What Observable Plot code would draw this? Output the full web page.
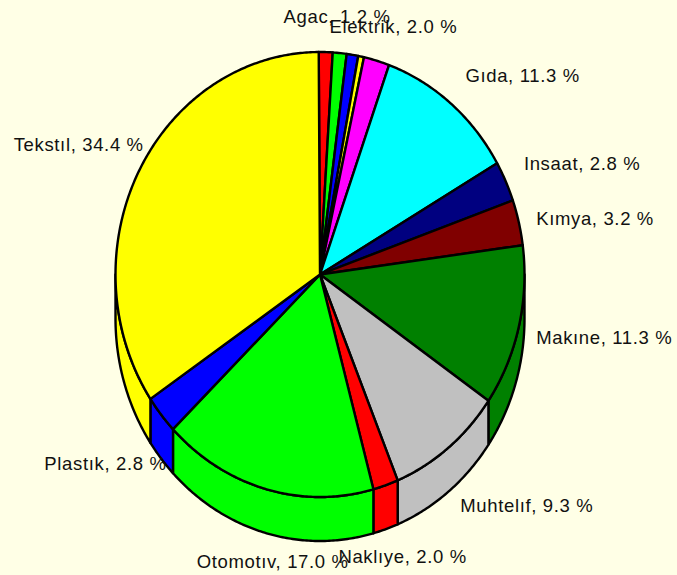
<!DOCTYPE html>
<html>
<head>
<meta charset="utf-8">
<script src="https://cdn.jsdelivr.net/npm/d3@7"></script>
<script src="https://cdn.jsdelivr.net/npm/@observablehq/plot@0.6"></script>
<style>
html,body{margin:0;padding:0;background:#FFFFE6;overflow:hidden}
svg{display:block}
</style>
</head>
<body>
<div id="chart"></div>
<script>
const names = ["Agac", null, null, null, "Elektrik", "Gıda", "Insaat", "Kımya", "Makıne", "Muhtelıf", "Naklıye", "Otomotıv", "Plastık", "Tekstıl"];
const shares = [1.2, 1.2, 1.0, 0.5, 2.0, 11.3, 2.8, 3.2, 11.3, 9.3, 2.0, 17.0, 2.8, 34.4];
const colors = ["#FF0000", "#00FF00", "#0000FF", "#FFFF00", "#FF00FF", "#00FFFF", "#000080", "#800000", "#008000", "#C0C0C0", "#FF0000", "#00FF00", "#0000FF", "#FFFF00"];
// Label anchor points (left edge, vertical middle), in pie-radius units
const labelX = [-0.178, null, null, null, 0.046, 0.711, 0.997, 1.057, 1.057, 0.686, 0.09, -0.603, -1.348, -1.498];
const labelY = [1.155, null, null, null, 1.11, 0.891, 0.498, 0.247, -0.287, -1.042, -1.272, -1.294, -0.852, 0.58];
// The reference's 3-D view bends the angles slightly: cumulative share -> drawn share
const viewFrom = [0, 3.9, 5.9, 17.2, 20, 23.2, 34.5, 43.8, 100];
const viewTo = [-0.1, 3.45, 5.48, 16.67, 19.6, 22.9, 34.6, 43.8, 99.9];

const W = 677, H = 575;
const cx = 319.5, cy = 274, rx = 204.5, ry = 222.5;
const depth = 44 / ry;
const tau = 2 * Math.PI;
const view = d3.scaleLinear(viewFrom, viewTo);

const rows = [], walls = [];
let cum = 0;
shares.forEach((v, i) => {
  const a0 = view(cum) / 100 * tau;
  cum += v;
  const a1 = view(cum) / 100 * tau;
  const arc = (from, to, dy = 0) => {
    const n = Math.max(2, Math.ceil(Math.abs(to - from) / 0.01));
    return d3.range(n + 1).map(k => {
      const a = from + (to - from) * k / n;
      return {x: Math.sin(a), y: Math.cos(a) - dy};
    });
  };
  const face = [{x: 0, y: 0}, ...arc(a0, a1), {x: 0, y: 0}];
  face.forEach(p => rows.push({...p, id: i, color: colors[i]}));
  const w0 = Math.max(a0, tau / 4), w1 = Math.min(a1, 3 * tau / 4);
  if (w1 > w0) {
    const wall = [...arc(w0, w1), ...arc(w1, w0, depth)];
    wall.push(wall[0]);
    wall.forEach(p => walls.push({...p, id: i, color: colors[i]}));
  }
});

const labels = names.map((n, i) => n && ({
  x: labelX[i], y: labelY[i], text: `${n}, ${shares[i].toFixed(1)} %`
})).filter(Boolean);

const plot = Plot.plot({
  width: W, height: H,
  margin: 0,
  style: {background: "#FFFFE6", overflow: "visible", letterSpacing: "0.65px"},
  x: {domain: [-cx / rx, (W - cx) / rx], range: [0, W], axis: null},
  y: {domain: [cy / ry, (cy - H) / ry], range: [0, H], axis: null},
  color: {type: "identity"},
  marks: [
    Plot.line(walls, {x: "x", y: "y", z: "id", fill: "color", stroke: "#000", strokeWidth: 2.4, strokeLinejoin: "round"}),
    Plot.line(rows, {x: "x", y: "y", z: "id", fill: "color", stroke: "#000", strokeWidth: 2.4, strokeLinejoin: "round"}),
    Plot.text(labels, {x: "x", y: "y", text: "text", textAnchor: "start", lineAnchor: "middle",
      fontFamily: "Liberation Sans, Arial, sans-serif", fontSize: 18.5, fill: "#111"})
  ]
});
document.getElementById("chart").append(plot);
</script>
</body>
</html>
